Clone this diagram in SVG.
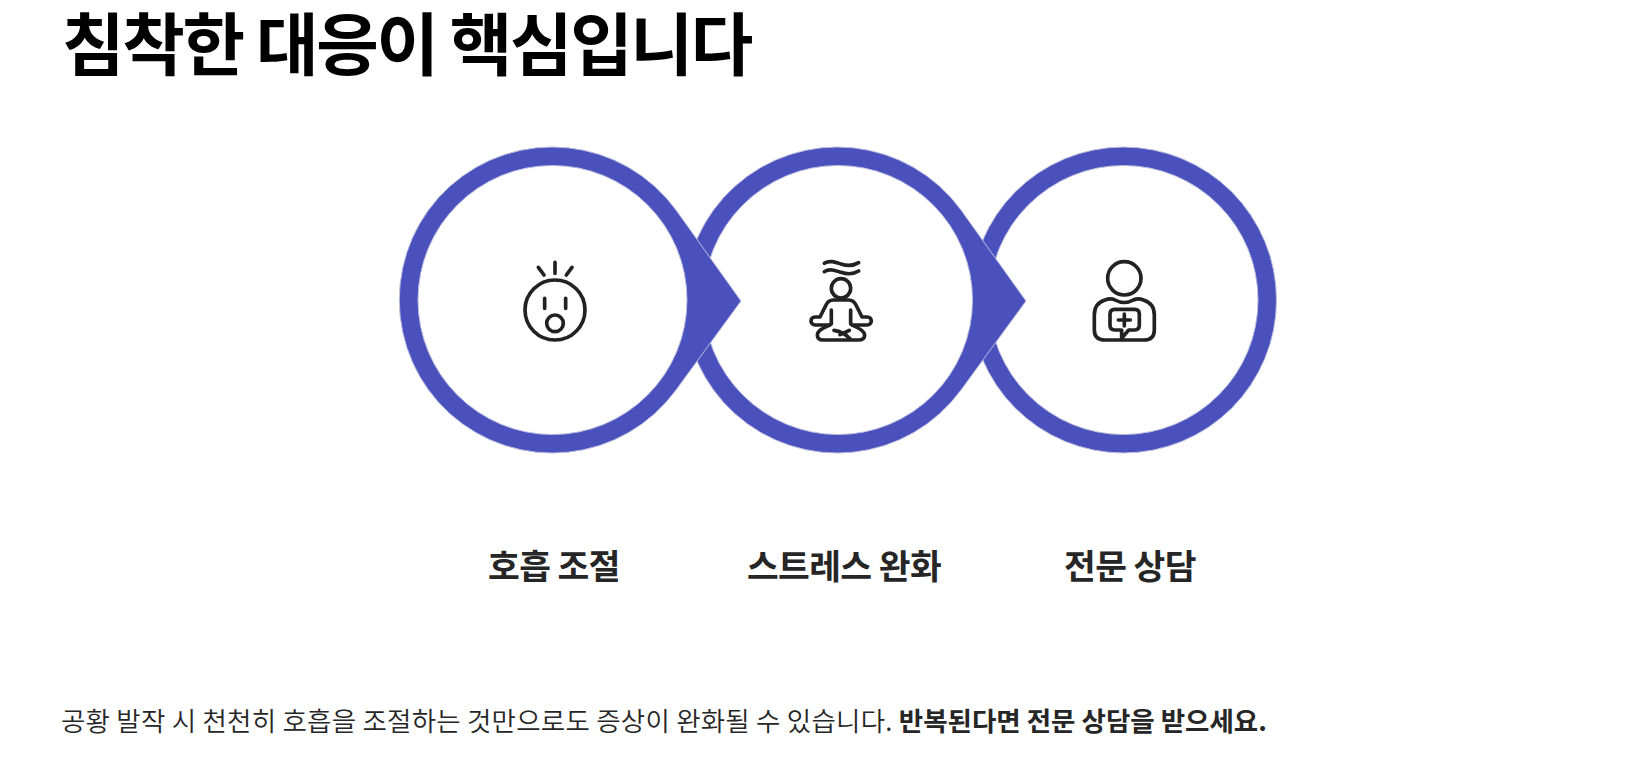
<svg xmlns="http://www.w3.org/2000/svg" width="1629" height="775" viewBox="0 0 1629 775">
<style>
text{font-family:"Noto Sans CJK KR","Noto Sans",sans-serif;fill:#262626}
.title{font-size:68px;font-weight:700;fill:#000;letter-spacing:-2.3px}
.lab{font-size:34.5px;font-weight:700;text-anchor:middle;letter-spacing:-.6px}
.foot{font-size:26.5px;font-weight:350;letter-spacing:.23px}
.foot tspan{font-weight:700;letter-spacing:0}
.ring{fill:#4a51bc;stroke:#bcbde0;stroke-width:1}
.in{fill:#fff;stroke:#bcbde0;stroke-width:1}
.ic{fill:none;stroke:#222;stroke-width:11;stroke-linecap:round;stroke-linejoin:round}
</style>
<rect width="1629" height="775" fill="#fff"/>
<text class="title" x="62" y="70">침착한 대응이 핵심입니다</text>
<g id="node3">
<circle class="ring" cx="1123.5" cy="300" r="153"/><circle class="in" cx="1123.5" cy="300" r="134.500"/>
<g class="ic" transform="translate(1070 250) scale(.3333)">
<circle cx="163" cy="85" r="50"/>
<path d="M105 270Q73 270 73 240V195Q73 160 105 150Q122 143 135 150Q163 165 190 150Q205 143 220 150Q253 160 253 195V240Q253 270 222 270Z"/>
<path d="M150 240H134Q120 240 120 226V192Q120 178 134 178H194Q208 178 208 192V226Q208 240 194 240H176L155 265V240"/>
<path d="M163 192V228M145 210H181"/>
</g>
<text class="lab" x="1130" y="579">전문 상담</text>
</g>
<g id="node2">
<path class="ring" d="M1026 301L961 210A153 153 0 1 0 961 390Z"/>
<circle class="in" cx="838" cy="300" r="134.500"/>
<g class="ic" transform="translate(790 250) scale(.3333)">
<path d="M103 40C118 30 135 36 153 42S190 48 206 38M103 65C118 55 135 61 153 67S190 73 206 63"/>
<circle cx="153" cy="115" r="29"/>
<path d="M120 225H75a12 12 0 0 1 0-24H90L108 165Q115 150 130 150H176Q191 150 198 165L216 201H232a12 12 0 0 1 0 24H186"/>
<path d="M124 180V222M182 180V222"/>
<path d="M118 226C95 235 82 245 82 255Q82 270 100 270H205Q224 270 224 255C224 245 210 235 188 226"/>
<path d="M132 241Q160 245 180 266M178 241Q160 250 150 254"/>
</g>
<text class="lab" x="844" y="579">스트레스 완화</text>
</g>
<g id="node1">
<path class="ring" d="M741 301L676 210A153 153 0 1 0 676 390Z"/>
<circle class="in" cx="552.500" cy="300" r="134.500"/>
<g class="ic" transform="translate(500 250) scale(.3333)">
<circle cx="165" cy="180" r="90"/>
<circle cx="165" cy="220" r="25"/>
<path d="M134 145V175M197 145V175M165 37V70M115 52L132 75M216 52L199 75"/>
</g>
<text class="lab" x="554" y="579">호흡 조절</text>
</g>
<text class="foot" x="61" y="731">공황 발작 시 천천히 호흡을 조절하는 것만으로도 증상이 완화될 수 있습니다. <tspan>반복된다면 전문 상담을 받으세요.</tspan></text>
</svg>
